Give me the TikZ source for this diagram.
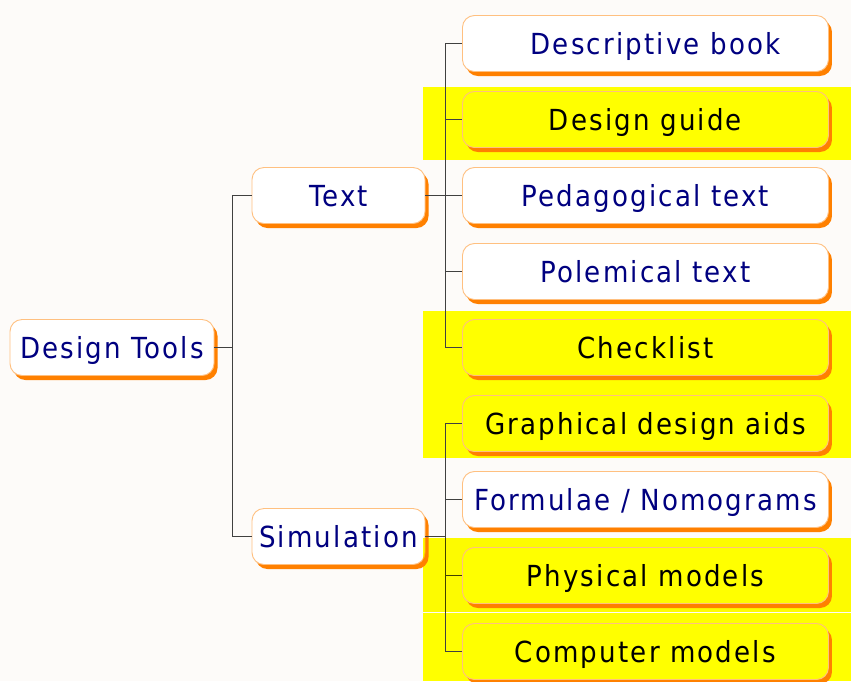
\documentclass[tikz,border=0pt]{standalone}
\usepackage{fontspec}
\setmainfont{DejaVu Sans Condensed}[LetterSpace=7.5]
\usetikzlibrary{shadows}
\definecolor{bg}{HTML}{FDFBF9}
\definecolor{hl}{HTML}{FFFF00}
\definecolor{boxline}{HTML}{FFC080}
\definecolor{shadoworange}{HTML}{FF8000}
\definecolor{navytext}{HTML}{000080}
\definecolor{linkgray}{HTML}{404040}
\tikzset{
  mapbox/.style={draw=boxline, line width=0.9pt, rounded corners=12pt,
    inner xsep=0pt, inner ysep=0pt, minimum height=56pt,
    text height=21pt, text depth=0pt, font=\fontsize{29}{34}\selectfont,
    general shadow={fill=shadoworange, shadow xshift=3.5pt, shadow yshift=-4.5pt}},
  plainbox/.style={mapbox, fill=white, text=navytext},
  hlbox/.style={mapbox, fill=hl, text=black},
  leafbox/.style={minimum width=366pt, anchor=west},
  link/.style={draw=linkgray, line width=1pt},
  band/.style={fill=hl, draw=none},
}
\begin{document}
\begin{tikzpicture}[x=1pt,y=-1pt]
\useasboundingbox (0,0) rectangle (851,681);
\fill[bg] (0,0) rectangle (851,681);
% highlight bands
\fill[band] (423,87) rectangle (851,160);
\fill[band] (423,311) rectangle (851,458);
\fill[band] (423,613) rectangle (851,681);
% nodes
\node[plainbox, minimum width=204pt] (root) at (112,347.5) {Design Tools};
\node[plainbox, minimum width=173pt] (text) at (338.5,195.5) {Text};
\node[plainbox, minimum width=173pt] (sim) at (338.5,536.5) {Simulation};
% connectors
\draw[link] (root.east) -- ++(19,0);
\draw[link] (text.west) -- ++(-19,0) |- (sim.west);
\draw[link] (text.east) -- ++(20,0);
\draw[link] (sim.east) -- ++(20,0);
\coordinate (l1w) at (462,43.5);
\coordinate (l2w) at (462,119.5);
\coordinate (l3w) at (462,195.5);
\coordinate (l4w) at (462,271.5);
\coordinate (l5w) at (462,347.5);
\coordinate (l6w) at (462,423.5);
\coordinate (l7w) at (462,499.5);
\coordinate (l8w) at (462,575.5);
\coordinate (l9w) at (462,651.5);
\draw[link] (l1w) -- ++(-17,0) |- (l5w);
\draw[link] (l2w) -- ++(-17,0);
\draw[link] (l3w) -- ++(-17,0);
\draw[link] (l4w) -- ++(-17,0);
\draw[link] (l6w) -- ++(-17,0) |- (l9w);
\draw[link] (l7w) -- ++(-17,0);
\draw[link] (l8w) -- ++(-17,0);
\begin{scope}[blend mode=multiply]
\fill[band] (423,538) rectangle (851,612);
\end{scope}
% leaf boxes
\node[plainbox, leafbox] (l1) at (l1w) {\hspace*{20pt}Descriptive book};
\node[hlbox, leafbox] (l2) at (l2w) {Design guide};
\node[plainbox, leafbox] (l3) at (l3w) {Pedagogical text};
\node[plainbox, leafbox] (l4) at (l4w) {Polemical text};
\node[hlbox, leafbox] (l5) at (l5w) {Checklist};
\node[hlbox, leafbox] (l6) at (l6w) {Graphical design aids};
\node[plainbox, leafbox] (l7) at (l7w) {Formulae / Nomograms};
\node[hlbox, leafbox] (l8) at (l8w) {Physical models};
\node[hlbox, leafbox] (l9) at (l9w) {Computer models};
\end{tikzpicture}
\end{document}
